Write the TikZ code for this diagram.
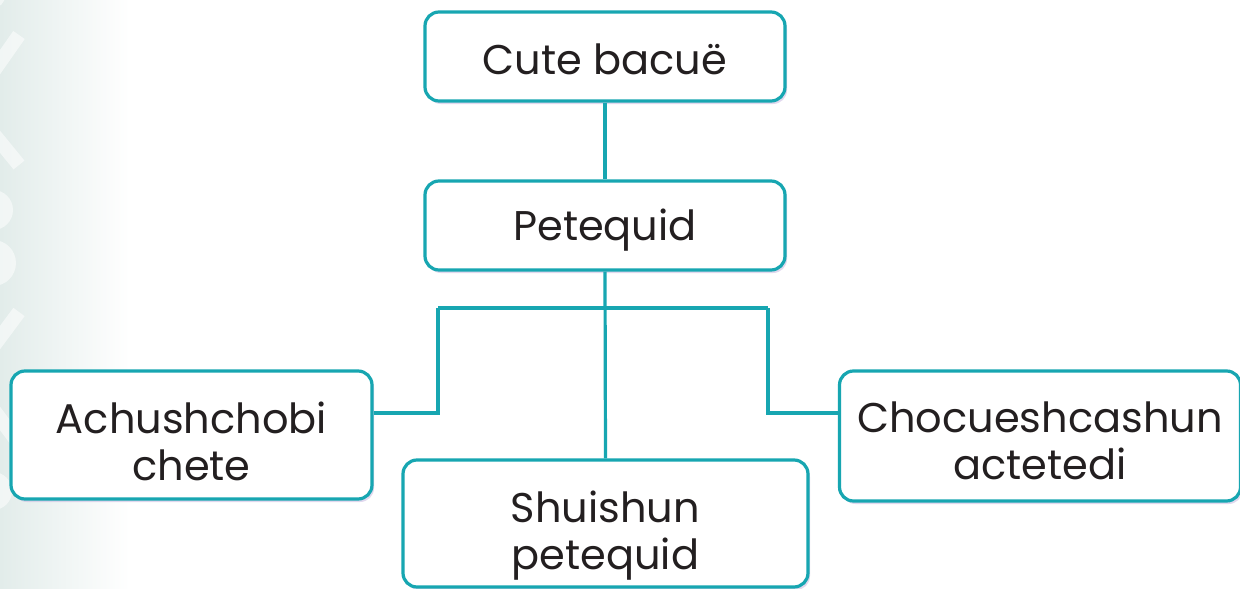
\documentclass[tikz,border=0pt]{standalone}
\usepackage{fontspec}
\setmainfont{Poppins}
\usetikzlibrary{shadows}
\definecolor{tealc}{HTML}{17A6B1}
\definecolor{bgl}{HTML}{E2ECEA}
\definecolor{shad}{HTML}{CDBFE3}
\definecolor{txt}{HTML}{231F20}
\newcommand{\twolines}[3]{\raisebox{-#1}[\height][\depth]{\begin{tabular}{@{}c@{}}#2\\#3\end{tabular}}}
\newcommand{\oneline}[2]{\raisebox{-#1}[\height][\depth]{#2}}
\begin{document}
\begin{tikzpicture}[x=1pt,y=-1pt,
  box/.style={draw=tealc, line width=3.2pt, rounded corners=14pt, fill=white,
    align=center, text=txt, font=\fontsize{41.5}{47}\selectfont, inner sep=0pt,
    drop shadow={shadow xshift=2pt, shadow yshift=-3pt, fill=shad, opacity=0.6}},
  conn/.style={draw=tealc, line width=3.2pt},
  deco/.style={white, opacity=0.55}]
\useasboundingbox (0,0) rectangle (1240,589);
\fill[white] (0,0) rectangle (1240,589);
\shade[left color=bgl, right color=white] (0,0) rectangle (130,589);
\begin{scope}
\clip (0,0) rectangle (130,589);
\draw[deco, line width=14pt] (19,35) -- (-30,105) -- (19,165);
\draw[deco, line width=14pt] (19,312) -- (-30,378) -- (19,444);
\fill[deco] (-7,210) circle (20);
\fill[deco] (-7,263) circle (23);
\fill[deco] (-7,491) circle (19);
\fill[deco] (-7,-4) circle (12);
\end{scope}

\node[box, minimum width=360pt, minimum height=89pt] (top) at (605,56.5) {\oneline{3pt}{Cute bacuë}};
\node[box, minimum width=360pt, minimum height=89pt] (pet) at (605,225.5) {\oneline{5pt}{Petequid}};
\node[box, minimum width=361pt, minimum height=128pt] (ach) at (191.5,435) {\twolines{13pt}{Achushchobi}{chete}};
\node[box, minimum width=405pt, minimum height=127pt] (shu) at (605.5,523.5) {\twolines{13pt}{Shuishun}{petequid}};
\node[box, minimum width=401pt, minimum height=130pt] (cho) at (1040,436) {\twolines{11pt}{Chocueshcashun}{actetedi}};

\coordinate (hl) at (438,308);
\coordinate (hr) at (768,308);
\coordinate (al) at (438,413);
\coordinate (ar) at (768,413);
\draw[conn] (top.south) -- (pet.north);
\draw[conn] (pet.south) -- (shu.north);
\draw[conn] (hl) -- (hr);
\draw[conn] (hl) -- (al) -- (al -| ach.east);
\draw[conn] (hr) -- (ar) -- (ar -| cho.west);
\end{tikzpicture}
\end{document}
